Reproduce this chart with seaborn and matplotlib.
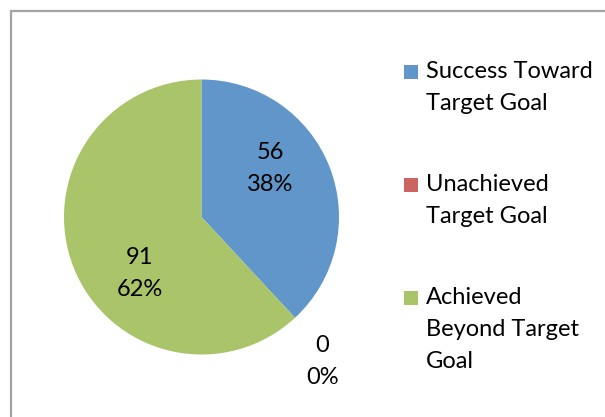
import matplotlib
matplotlib.use("Agg")
import matplotlib.pyplot as plt
from matplotlib.patches import Rectangle
import seaborn as sns

categories = ["Success Toward\nTarget Goal", "Unachieved\nTarget Goal", "Achieved\nBeyond Target\nGoal"]
counts = [56, 0, 91]
colors = ["#6096C9", "#CC6561", "#AAC46A"]

# where Excel put the data labels (pie radius units)
label_pos = [(0.50, 0.35), (0.88, -1.05), (-0.45, -0.41)]

sns.set_theme(style="white")
plt.rcParams["font.family"] = ["Lato", "DejaVu Sans"]
FS = 17
LS = 1.64

W, H = 605, 417
fig = plt.figure(figsize=(W / 100, H / 100), dpi=100)

# chart border (runs off right/bottom edge like the screenshot)
fig.patches.append(Rectangle((10.5 / W, -0.05), 1.0, 1.05 - 10.5 / H, transform=fig.transFigure,
                             fill=False, edgecolor="#A3A3A3", linewidth=1.6))

cx, cy, r = 201.5, 217, 137.5
ax = fig.add_axes([(cx - r) / W, (H - cy - r) / H, 2 * r / W, 2 * r / H])
ax.pie(counts, colors=colors, startangle=90, counterclock=False,
       wedgeprops=dict(linewidth=0))
ax.set_xlim(-1, 1)
ax.set_ylim(-1, 1)
ax.set_aspect("auto")

total = sum(counts)
for (x, y), v in zip(label_pos, counts):
    ax.text(x, y, "{}\n{:.0f}%".format(v, v / total * 100), ha="center", va="center",
            fontsize=FS, color="black", linespacing=LS, clip_on=False)

# legend drawn by hand so the square sits on the first line
line_h = 32
y = 72
for cat, c in zip(categories, colors):
    n = cat.count("\n") + 1
    fig.patches.append(Rectangle((404 / W, 1 - (y + 7) / H), 14 / W, 14 / H,
                                 transform=fig.transFigure, facecolor=c, edgecolor="none"))
    fig.text(426 / W, 1 - (y - 11) / H, cat, ha="left", va="top", fontsize=FS,
             linespacing=LS, color="black")
    y += (n - 1) * line_h + 81

fig.savefig("out.png", dpi=100)
